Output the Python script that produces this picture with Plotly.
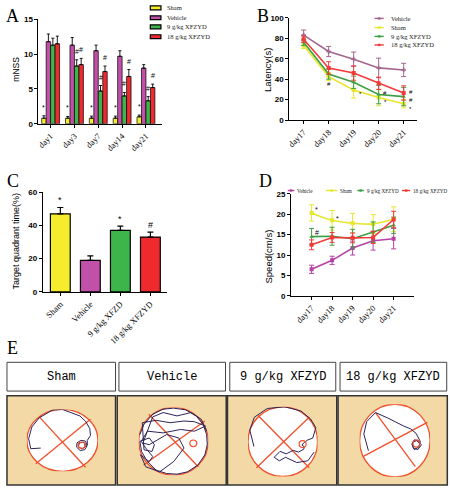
import plotly.graph_objects as go

W, H = 450, 491

# ---------------- data ----------------
groups = ["Sham", "Vehicle", "9 g/kg XFZYD", "18 g/kg XFZYD"]

# Panel A: mNSS
days_a = ["day1", "day3", "day7", "day14", "day21"]
mnss_sham = [0.8, 0.8, 0.8, 0.8, 1.0]
mnss_sham_err = [0.35, 0.25, 0.3, 0.3, 0.25]
mnss_vehicle = [11.8, 11.3, 10.5, 9.7, 8.0]
mnss_vehicle_err = [1.1, 1.1, 0.8, 0.8, 0.5]
mnss_9g = [11.3, 8.3, 4.7, 4.0, 3.3]
mnss_9g_err = [1.0, 0.9, 0.8, 0.5, 0.6]
mnss_18g = [11.5, 8.5, 7.5, 6.8, 5.2]
mnss_18g_err = [1.1, 0.9, 0.8, 1.0, 0.5]
mnss_sham_sig = ["*", "*", "*", "*", "*"]
mnss_9g_sig = ["", "#", "#", "#", "#"]
mnss_18g_sig = ["", "#", "#", "#", "#"]

# Panel B: escape latency
days_b = ["day17", "day18", "day19", "day20", "day21"]
lat_vehicle = [83, 67, 59.5, 51, 49]
lat_vehicle_err = [5, 5, 7, 9.5, 6.5]
lat_sham = [73, 42.5, 29.5, 22, 16]
lat_sham_err = [3, 4, 8, 8, 4]
lat_9g = [76, 45, 37, 25, 23]
lat_9g_err = [3, 5, 6, 9, 9]
lat_18g = [79, 51, 46, 36, 26.5]
lat_18g_err = [3, 6, 7, 6, 7]

# Panel C: target quadrant time
c_groups = ["Sham", "Vehicle", "9 g/kg XFZD", "18 g/kg XFZYD"]
tq_time = [47, 19, 37, 33]
tq_err = [3.8, 2.7, 2.6, 3.0]
tq_sig = ["*", "", "*", "#"]

# Panel D: swimming speed
days_d = ["day17", "day18", "day19", "day20", "day21"]
spd_vehicle = [6.5, 8.7, 11.7, 13.5, 14.0]
spd_vehicle_err = [1.0, 1.0, 1.7, 2.3, 2.5]
spd_sham = [20.3, 18.5, 17.8, 17.6, 18.8]
spd_sham_err = [2.0, 2.4, 2.4, 2.3, 3.0]
spd_9g = [14.5, 14.6, 14.0, 15.6, 17.3]
spd_9g_err = [2.0, 2.2, 2.3, 2.5, 2.0]
spd_18g = [12.5, 14.3, 14.2, 14.3, 18.7]
spd_18g_err = [1.2, 1.2, 1.2, 1.5, 2.0]

# Panel E: swim paths (pool unit-circle coordinates)
e_titles = ["Sham", "Vehicle", "9 g/kg XFZYD", "18 g/kg XFZYD"]
path_sham_x = [-0.61, -0.89, -0.95, -0.86, -0.65, -0.28, 0.0, 0.23, 0.49, 0.65, 0.77, 0.79, 0.7,
               0.7, 0.64, 0.52, 0.41, 0.4, 0.5, 0.63, 0.69, 0.6, 0.48, 0.45, 0.55, 0.65, 0.62]
path_sham_y = [-0.25, -0.27, 0.05, 0.43, 0.73, 0.98, 1.0, 0.9, 0.79, 0.62, 0.38, 0.16, 0.0,
               -0.16, -0.02, 0.0, -0.08, -0.22, -0.33, -0.3, -0.18, -0.06, -0.08, -0.2, -0.28, -0.2, -0.12]
path_veh_x = [-0.97, -0.85, -0.6, -0.3, 0.0, 0.35, 0.65, 0.85, 0.95, 0.97, 0.9, 0.7, 0.4, 0.1, -0.2, -0.5,
              -0.75, -0.92, -0.97, -0.7, -0.55, -0.62, -0.85, -0.9, -0.5, -0.1, 0.3, 0.6, 0.92, 0.6, 0.2,
              -0.3, -0.75, -0.93, -0.8, -0.6, -0.7, -0.95, -0.8, -0.4, 0.0, 0.3, 0.15, -0.2, -0.45, -0.7,
              -0.88, -0.6, -0.3, 0.1, 0.5, 0.8, 0.95]
path_veh_y = [0.2, 0.5, 0.8, 0.95, 0.98, 0.93, 0.75, 0.5, 0.2, -0.1, -0.4, -0.7, -0.9, -0.97, -0.95, -0.85,
              -0.6, -0.3, 0.0, 0.1, -0.1, -0.3, -0.25, 0.55, 0.62, 0.55, 0.6, 0.58, 0.45, 0.3, 0.35,
              0.25, 0.3, 0.0, -0.2, -0.45, -0.6, -0.4, -0.75, -0.9, -0.6, -0.2, 0.1, 0.2, 0.05, -0.1,
              -0.05, 0.72, 0.85, 0.75, 0.85, 0.65, 0.3]
path_9g_x = [-0.83, -0.95, -0.82, -0.45, 0.05, 0.52, 0.8, 0.95, 0.86, 0.72, 0.62, 0.55, 0.62, 0.6,
             0.45, 0.3, 0.1, -0.08, -0.25, -0.1, 0.08, 0.4, 0.72, 0.9]
path_9g_y = [-0.14, 0.33, 0.7, 0.95, 1.0, 0.88, 0.65, 0.4, 0.1, 0.05, -0.02, -0.1, -0.15, -0.22,
             -0.3, -0.25, -0.35, -0.28, -0.45, -0.55, -0.45, -0.6, -0.55, -0.3]
path_18g_x = [-0.75, -0.88, -0.8, -0.55, -0.2, 0.1, 0.25, 0.45, 0.6, 0.72, 0.68, 0.55, 0.48, 0.55,
              0.68, 0.75, 0.65, 0.52, 0.5, 0.62, 0.7]
path_18g_y = [-0.28, 0.18, 0.52, 0.77, 0.62, 0.47, 0.4, 0.32, 0.2, -0.02, -0.18, -0.25, -0.1, 0.02,
              -0.02, -0.12, -0.25, -0.2, -0.05, 0.0, -0.08]
platform_x = [0.54, 0.57, 0.57, 0.61]
platform_y = [-0.16, -0.06, -0.07, -0.08]
cross_a = [(-0.65, 0.76, 0.65, -0.87), (-0.71, 0.8, 0.71, -0.75), (-0.71, 0.75, 0.76, -0.75), (-0.55, 0.77, 0.58, -0.72)]
cross_b = [(-0.75, -0.76, 0.79, 0.68), (-0.86, -0.7, 0.9, 0.6), (-0.76, -0.75, 0.76, 0.7), (-0.88, -0.43, 0.92, 0.5)]

# ---------------- styles ----------------
YEL = "#F4EC2C"
PUR = "#C050A8"
GRN = "#3DB54A"
RED = "#EE2A2F"
B_VEH = "#A4668F"
B_YEL = "#E6E62E"
B_GRN = "#3E9E44"
B_RED = "#F23A3A"
PATH = "#2E2458"
CROSS = "#F0502A"
SANS = "Liberation Sans"
SERIF = "Liberation Serif"


def px_x(a, b):
    return [a / W, b / W]


def px_y(top, bottom):
    return [1 - bottom / H, 1 - top / H]


def xp(v):
    return v / W


def yp(v):
    return 1 - v / H


fig = go.Figure()

# ---- Panel A bars ----
a_series = [(mnss_sham, mnss_sham_err, YEL), (mnss_vehicle, mnss_vehicle_err, PUR),
            (mnss_9g, mnss_9g_err, GRN), (mnss_18g, mnss_18g_err, RED)]
for name, (vals, errs, col) in zip(groups, a_series):
    fig.add_trace(go.Bar(
        x=days_a, y=vals, name=name, marker=dict(color=col, line=dict(color="black", width=0.7)),
        error_y=dict(type="data", array=errs, arrayminus=[0] * len(errs), symmetric=False,
                     color="black", thickness=0.9, width=1.5),
        xaxis="x", yaxis="y", showlegend=False))

# ---- Panel B lines ----
b_series = [(lat_vehicle, lat_vehicle_err, B_VEH, "cross"), (lat_sham, lat_sham_err, B_YEL, "square"),
            (lat_9g, lat_9g_err, B_GRN, "triangle-up"), (lat_18g, lat_18g_err, B_RED, "square")]
b_names = ["Vehicle", "Sham", "9 g/kg XFZYD", "18 g/kg XFZYD"]
for name, (vals, errs, col, sym) in zip(b_names, b_series):
    fig.add_trace(go.Scatter(
        x=days_b, y=vals, name=name, mode="lines+markers",
        line=dict(color=col, width=1.6), marker=dict(color=col, size=4, symbol=sym),
        error_y=dict(type="data", array=errs, color=col, thickness=1, width=2.5),
        xaxis="x2", yaxis="y2", showlegend=False))

# ---- Panel C bars ----
fig.add_trace(go.Bar(
    x=c_groups, y=tq_time, width=0.66,
    marker=dict(color=[YEL, PUR, GRN, RED], line=dict(color="black", width=1.2)),
    error_y=dict(type="data", array=tq_err, arrayminus=[0] * len(tq_err), symmetric=False,
                 color="black", thickness=1.2, width=3),
    xaxis="x3", yaxis="y3", showlegend=False))

# ---- Panel D lines ----
D_VEH = "#B443A4"
d_series = [(spd_vehicle, spd_vehicle_err, D_VEH, "square", "linear"),
            (spd_sham, spd_sham_err, B_YEL, "square", "spline"),
            (spd_9g, spd_9g_err, B_GRN, "triangle-up", "linear"),
            (spd_18g, spd_18g_err, B_RED, "square", "linear")]
for name, (vals, errs, col, sym, shp) in zip(b_names, d_series):
    fig.add_trace(go.Scatter(
        x=days_d, y=vals, name=name, mode="lines+markers",
        line=dict(color=col, width=1.6, shape=shp), marker=dict(color=col, size=4, symbol=sym),
        error_y=dict(type="data", array=errs, color=col, thickness=1, width=2.5),
        xaxis="x4", yaxis="y4", showlegend=False))

# ---- Panel E paths ----
paths = [(path_sham_x, path_sham_y), (path_veh_x, path_veh_y), (path_9g_x, path_9g_y), (path_18g_x, path_18g_y)]
for i, (px_, py_) in enumerate(paths):
    ax = str(5 + i)
    fig.add_trace(go.Scatter(x=px_, y=py_, mode="lines", line=dict(color=PATH, width=1),
                             xaxis="x" + ax, yaxis="y" + ax, showlegend=False, hoverinfo="skip"))

# ---------------- axes ----------------
axis_common = dict(showline=True, linecolor="black", linewidth=1, ticks="outside", ticklen=3,
                   tickwidth=1, tickcolor="black", showgrid=False, zeroline=False, fixedrange=True)
ytick_font = dict(family=SANS, size=8, color="black", weight="bold")
xtick_font = dict(family=SERIF, size=8.5, color="black")

layout = dict(
    width=W, height=H, margin=dict(l=0, r=0, t=0, b=0), autosize=False,
    paper_bgcolor="white", plot_bgcolor="rgba(0,0,0,0)",
    barmode="group", bargap=0.25, bargroupgap=0,
    xaxis=dict(domain=px_x(35.7, 160), range=[-0.51, 4.67], tickangle=-45, tickfont=xtick_font,
               anchor="y", **axis_common),
    yaxis=dict(domain=px_y(15.7, 122), range=[0, 15], tickvals=[0, 5, 10, 15], tickfont=ytick_font,
               anchor="x", **axis_common),
    xaxis2=dict(domain=px_x(288.3, 416.7), range=[-0.57, 4.53], tickangle=-45, tickfont=xtick_font,
                anchor="y2", **axis_common),
    yaxis2=dict(domain=px_y(14, 118.3), range=[0, 100], tickvals=[0, 20, 40, 60, 80, 100],
                tickfont=ytick_font, anchor="x2", **axis_common),
    xaxis3=dict(domain=px_x(40, 165), range=[-0.586, 3.55], tickangle=-45, tickfont=xtick_font,
                anchor="y3", **axis_common),
    yaxis3=dict(domain=px_y(191.7, 293.3), range=[0, 60], tickvals=[0, 20, 40, 60],
                tickfont=ytick_font, anchor="x3", **axis_common),
    xaxis4=dict(domain=px_x(290, 413.3), range=[-1.0, 4.97], tickangle=-45, tickfont=xtick_font,
                anchor="y4", **axis_common),
    yaxis4=dict(domain=px_y(193.3, 297.3), range=[0, 25], tickvals=[0, 5, 10, 15, 20, 25],
                tickfont=ytick_font, anchor="x4", **axis_common),
)

# pool axes: (center x, center y, rx, ry) in pixels
pools = [(59.8, 444.5, 35.8, 31.5), (171.7, 445.5, 35, 34.5), (281.7, 445.8, 35, 35.5), (394.5, 444.7, 35.5, 37)]
for i, (cx, cy, rx, ry) in enumerate(pools):
    k = str(5 + i)
    layout["xaxis" + k] = dict(domain=px_x(cx - rx, cx + rx), range=[-1, 1], visible=False,
                               anchor="y" + k, fixedrange=True)
    layout["yaxis" + k] = dict(domain=px_y(cy - ry, cy + ry), range=[-1, 1], visible=False,
                               anchor="x" + k, fixedrange=True)

shapes = []
annotations = []

# ---- panel letters ----
for letter, x, y in [("A", 10, 12), ("B", 262, 12), ("C", 10, 180), ("D", 264, 180), ("E", 10, 350)]:
    annotations.append(dict(text=letter, x=xp(x), y=yp(y), xref="paper", yref="paper", showarrow=False,
                            font=dict(family=SERIF, size=18, color="black"), xanchor="center", yanchor="middle"))

# ---- axis titles ----
for txt, x, y, sz in [("mNSS", 13, 66, 8.5), ("Latency(s)", 267, 67, 9.5),
                      ("Target quadrant time(%)", 13, 241, 9), ("Speed(cm/s)", 267, 257, 9.5)]:
    annotations.append(dict(text=txt, x=xp(x), y=yp(y), xref="paper", yref="paper", showarrow=False,
                            textangle=-90, font=dict(family=SANS, size=sz, color="black"),
                            xanchor="center", yanchor="middle"))

# ---- significance marks panel A ----
a_offsets = [-6.75, -2.25, 2.25, 6.75]
for vals, errs, sig, off in [(mnss_sham, mnss_sham_err, mnss_sham_sig, a_offsets[0]),
                             (mnss_9g, mnss_9g_err, mnss_9g_sig, a_offsets[2]),
                             (mnss_18g, mnss_18g_err, mnss_18g_sig, a_offsets[3])]:
    for d, v, e, s in zip(days_a, vals, errs, sig):
        if s:
            annotations.append(dict(text=s, x=d, y=v + e, xref="x", yref="y", xshift=off, yshift=3,
                                    showarrow=False, font=dict(family=SANS, size=7, color="black"),
                                    yanchor="bottom"))

# ---- significance panel C ----
for g, v, e, s in zip(c_groups, tq_time, tq_err, tq_sig):
    if s:
        annotations.append(dict(text=s, x=g, y=v + e, xref="x3", yref="y3", yshift=0, showarrow=False,
                                font=dict(family=SANS, size=9, color="black"), yanchor="bottom"))

# ---- significance panel B ----
b_marks = [("day18", lat_9g[1] - lat_9g_err[1], "#", 0, -5),
           ("day19", lat_sham[2] - lat_sham_err[2] + 4, "*", 7, 0),
           ("day20", lat_sham[3] - lat_sham_err[3] + 4, "*", 7, 0),
           ("day20", lat_9g[3], "#", 6, 2),
           ("day21", lat_18g[4], "#", 7, 1),
           ("day21", lat_9g[4], "#", 7, -3),
           ("day21", lat_sham[4], "*", 7, -5)]
for d, y, s, xs, ys in b_marks:
    annotations.append(dict(text=s, x=d, y=y, xref="x2", yref="y2", xshift=xs, yshift=ys, showarrow=False,
                            font=dict(family=SANS, size=6, color="black")))

# ---- significance panel D ----
for d, y, s, xs, ys in [("day17", spd_sham[0], "*", 5, 3), ("day18", spd_sham[1], "*", 5, 2),
                        ("day17", spd_9g[0], "#", 5, 4)]:
    annotations.append(dict(text=s, x=d, y=y, xref="x4", yref="y4", xshift=xs, yshift=ys, showarrow=False,
                            font=dict(family=SANS, size=7, color="black")))

# ---- legend A (manual) ----
leg_font = dict(family=SERIF, size=6.5, color="#222")
for name, col, y in zip(groups, [YEL, PUR, GRN, RED], [4, 14, 23.3, 33.3]):
    shapes.append(dict(type="rect", xref="paper", yref="paper", x0=xp(148.3), x1=xp(159),
                       y0=yp(y + 2), y1=yp(y - 2), fillcolor=col, line=dict(color="black", width=1.2)))
    annotations.append(dict(text=name, x=xp(163.3), y=yp(y), xref="paper", yref="paper", showarrow=False,
                            xanchor="left", yanchor="middle", font=leg_font))

# ---- legend B (manual) ----
for name, (_, _, col, sym), y in zip(b_names, b_series, [14.7, 24, 33, 41.7]):
    shapes.append(dict(type="line", xref="paper", yref="paper", x0=xp(374), x1=xp(383.3),
                       y0=yp(y), y1=yp(y), line=dict(color=col, width=1.4)))
    shapes.append(dict(type="rect", xref="paper", yref="paper", x0=xp(377.5), x1=xp(380),
                       y0=yp(y + 1.2), y1=yp(y - 1.2), fillcolor=col, line=dict(width=0)))
    annotations.append(dict(text=name, x=xp(388.3), y=yp(y), xref="paper", yref="paper", showarrow=False,
                            xanchor="left", yanchor="middle", font=leg_font))

# ---- legend D (manual, horizontal) ----
d_leg = [(286.7, 293.3), (325, 336.5), (356.7, 363.3), (401.7, 410)]
for name, (_, _, col, _, _), (a0, a1) in zip(b_names, d_series, d_leg):
    y = 190
    shapes.append(dict(type="line", xref="paper", yref="paper", x0=xp(a0), x1=xp(a1),
                       y0=yp(y), y1=yp(y), line=dict(color=col, width=1.4)))
    shapes.append(dict(type="rect", xref="paper", yref="paper", x0=xp((a0 + a1) / 2 - 1.2),
                       x1=xp((a0 + a1) / 2 + 1.2), y0=yp(y + 1.2), y1=yp(y - 1.2),
                       fillcolor=col, line=dict(width=0)))
    annotations.append(dict(text=name, x=xp(a1 + 1), y=yp(y), xref="paper", yref="paper", showarrow=False,
                            xanchor="left", yanchor="middle", font=dict(family=SERIF, size=5.2, color="#222")))

# ---- Panel E boxes ----
head_boxes = [(4, 113.3), (116.7, 224), (228.3, 335), (339.3, 446.7)]
img_boxes = [(4, 113.3), (115, 224.7), (226, 336), (337.3, 447.3)]
for t, (a0, a1) in zip(e_titles, head_boxes):
    shapes.append(dict(type="rect", xref="paper", yref="paper", x0=xp(a0), x1=xp(a1),
                       y0=yp(394.3), y1=yp(365), fillcolor="white", line=dict(color="#444", width=1)))
    annotations.append(dict(text=t, x=xp((a0 + a1) / 2), y=yp(379.7), xref="paper", yref="paper",
                            showarrow=False, xanchor="center", yanchor="middle",
                            font=dict(family="Liberation Mono", size=12, color="black")))
for (a0, a1) in img_boxes:
    shapes.append(dict(type="rect", xref="paper", yref="paper", x0=xp(a0), x1=xp(a1),
                       y0=yp(490), y1=yp(399), fillcolor="#F3D9A6", line=dict(color="#333", width=1.5),
                       layer="below"))

for i in range(4):
    k = str(5 + i)
    xr, yr = "x" + k, "y" + k
    shapes.append(dict(type="circle", xref=xr, yref=yr, x0=-1, x1=1, y0=-1, y1=1,
                       fillcolor="white", line=dict(color=CROSS, width=1.3), layer="below"))
    for (x0, y0, x1, y1) in (cross_a[i], cross_b[i]):
        shapes.append(dict(type="line", xref=xr, yref=yr, x0=x0, y0=y0, x1=x1, y1=y1,
                           line=dict(color=CROSS, width=1.3), layer="below"))
    shapes.append(dict(type="circle", xref=xr, yref=yr, x0=platform_x[i] - 0.1, x1=platform_x[i] + 0.1,
                       y0=platform_y[i] - 0.1, y1=platform_y[i] + 0.1, line=dict(color=CROSS, width=1.2),
                       layer="above"))

layout["shapes"] = shapes
layout["annotations"] = annotations
fig.update_layout(**layout)
fig.write_html("out.html", config={"displayModeBar": False, "staticPlot": True},
               post_script="document.body.style.margin='0';document.body.style.overflow='hidden';")
